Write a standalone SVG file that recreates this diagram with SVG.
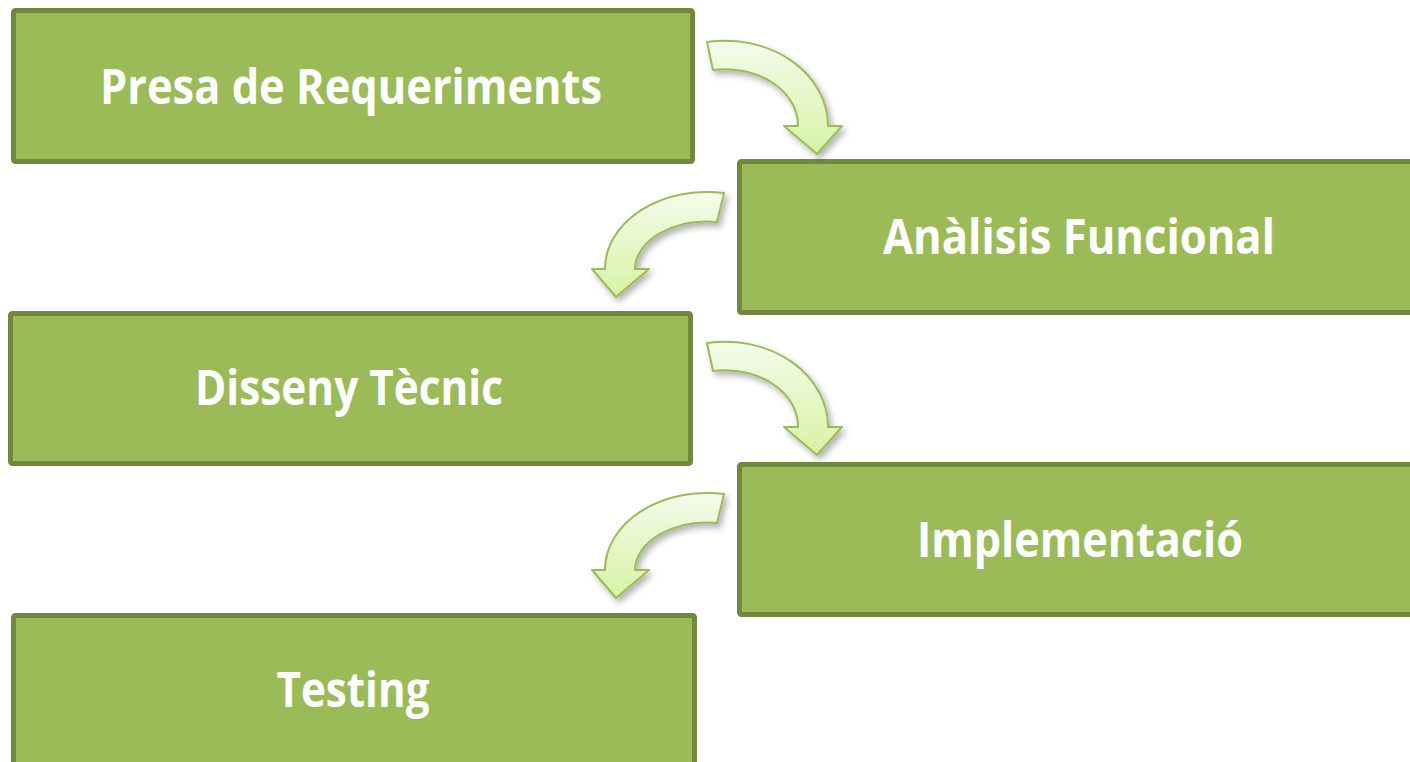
<svg xmlns="http://www.w3.org/2000/svg" width="1410" height="762" viewBox="0 0 1410 762">
<style>
.box{fill:#9BBB59;stroke:#71893F;stroke-width:5}
.lbl{font-family:"Open Sans","Liberation Sans",sans-serif;font-weight:700;font-size:49px;fill:#FFFFFF;text-anchor:middle}
.arr{fill:url(#ag);stroke:#9BBB59;stroke-width:2;stroke-linejoin:round;filter:url(#sh)}
</style>
<defs>
<linearGradient id="ag" x1="0" y1="0" x2="0" y2="1">
<stop offset="0" stop-color="#F4FCEC"/>
<stop offset="1" stop-color="#D6F3A4"/>
</linearGradient>
<filter id="sh" x="-20%" y="-20%" width="150%" height="150%">
<feDropShadow dx="3" dy="4" stdDeviation="3" flood-color="#000" flood-opacity="0.3"/>
</filter>
</defs>
<rect width="1410" height="762" fill="#FFFFFF"/>
<g id="n1"><rect class="box" x="13.5" y="10.5" width="679" height="151" rx="2"/><text class="lbl" x="351" y="104" textLength="502" lengthAdjust="spacingAndGlyphs">Presa de Requeriments</text></g>
<g id="n2"><rect class="box" x="739.5" y="161.5" width="679" height="151" rx="2"/><text class="lbl" x="1079" y="254" textLength="392" lengthAdjust="spacingAndGlyphs">Anàlisis Funcional</text></g>
<g id="n3"><rect class="box" x="10.5" y="313.5" width="680" height="150" rx="2"/><text class="lbl" x="349" y="405" textLength="308" lengthAdjust="spacingAndGlyphs">Disseny Tècnic</text></g>
<g id="n4"><rect class="box" x="739.5" y="464.5" width="679" height="150" rx="2"/><text class="lbl" x="1080" y="557" textLength="326" lengthAdjust="spacingAndGlyphs">Implementació</text></g>
<g id="n5"><rect class="box" x="13.5" y="615.5" width="681" height="151" rx="2"/><text class="lbl" x="353" y="707" textLength="153" lengthAdjust="spacingAndGlyphs">Testing</text></g>
<g id="connectors">
<path class="arr" d="M707,42 A103 85 0 0 1 828,126 L842,126 L817,154 L784,126 L798,126 A73 56 0 0 0 713,70 Z"/>
<path class="arr" d="M724,193 A102 77 0 0 0 605,269 L592,269 L616,297 L649,269 L635,269 A72 48 0 0 1 717,222 Z"/>
<path class="arr" d="M707,343 A103 85 0 0 1 828,427 L842,427 L817,455 L784,427 L798,427 A73 56 0 0 0 713,371 Z"/>
<path class="arr" d="M724,494 A102 77 0 0 0 605,570 L592,570 L616,598 L649,570 L635,570 A72 48 0 0 1 717,523 Z"/>
</g>
</svg>
